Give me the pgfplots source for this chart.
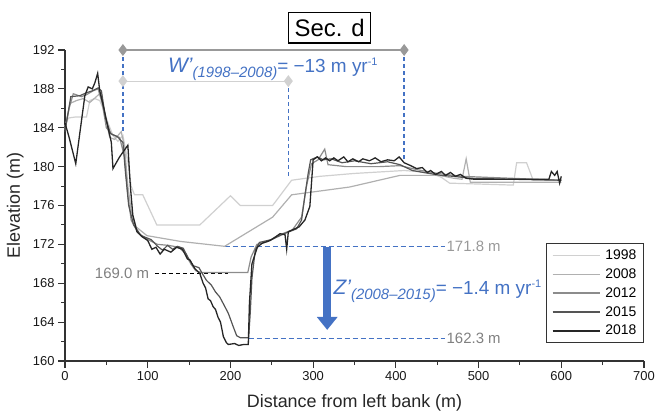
\documentclass[border=0pt]{standalone}
\usepackage{pgfplots}
\pgfplotsset{compat=1.18}
\usepackage{fontspec}
\setmainfont{Liberation Sans}
\usetikzlibrary{arrows.meta}
\definecolor{cblue}{RGB}{68,114,196}
\definecolor{cA}{HTML}{D0D0D0}
\definecolor{cB}{HTML}{B0B0B0}
\definecolor{cC}{HTML}{8C8C8C}
\definecolor{cD}{HTML}{555555}
\definecolor{cE}{HTML}{262626}
\begin{document}
\begin{tikzpicture}
\begin{axis}[name=ax, scale only axis, width=579bp, height=311bp,
  xmin=0, xmax=700, ymin=160, ymax=192,
  axis lines=left, axis line style={-, line width=1.3bp, color=black!80},
  xtick={0,100,...,700}, minor x tick num=1,
  ytick={160,164,...,192}, minor y tick num=1,
  tick align=outside, major tick length=7bp, minor tick length=4bp,
  tick style={line width=1.1bp, color=black!80},
  ticklabel style={font=\fontsize{13}{13}\selectfont, color=black!90},
  /pgf/number format/assume math mode=true,
  xlabel={Distance from left bank (m)}, ylabel={Elevation (m)},
  label style={font=\fontsize{18}{18}\selectfont, color=black!85},
  xlabel style={at={(axis description cs:0.5,-0.135)}, anchor=center},
  ylabel style={at={(axis description cs:-0.086,0.5)}, anchor=center},
  clip=false,
  legend style={at={(axis cs:700,172.1)}, anchor=north east, draw=black!80, line width=1bp,
    font=\fontsize{14}{14}\selectfont, row sep=3.6bp, column sep=3bp, inner xsep=5bp, inner ysep=4bp},
  legend cell align=right,
  legend image code/.code={\draw[#1, line width=1.5bp] (0bp,0bp) -- (47bp,0bp);},
]
% annotations (not in legend)
\addplot[forget plot, color=black!40, line width=1.2bp, mark=diamond*, mark size=5bp, mark options={fill=black!40}] coordinates {(70,192)(410,192)};
\addplot[forget plot, color=black!18, line width=1.2bp, mark=diamond*, mark size=5bp, mark options={fill=black!18}] coordinates {(70,188.8)(270,188.8)};
\addplot[forget plot, cblue, line width=1.3bp, dash pattern=on 4bp off 3bp] coordinates {(70,192)(70,183.4)};
\addplot[forget plot, cblue, line width=1.3bp, dash pattern=on 4bp off 3bp] coordinates {(270,188.8)(270,178.8)};
\addplot[forget plot, cblue, line width=1.3bp, dash pattern=on 4bp off 3bp] coordinates {(410,192)(410,180.8)};
\addplot[forget plot, cblue, line width=1.3bp, dash pattern=on 5bp off 3bp] coordinates {(193,171.8)(459.5,171.8)};
\addplot[forget plot, cblue, line width=1.3bp, dash pattern=on 5bp off 3bp] coordinates {(222,162.3)(459.5,162.3)};
\addplot[forget plot, black, line width=1.2bp, dash pattern=on 4bp off 3bp] coordinates {(109,169.0)(197,169.0)};
% data
\addplot[cA, line width=1.2bp] coordinates {(0,184.2)(4,185)(12,185.1)(26,185.1)(30,186.8)(36,187)(42,186.8)(46,186)(52,184.5)(58,183.2)(64,182.6)(70,183.2)(76,180.5)(80,178)(84,177.1)(94,177.1)(111,174)(163,174)(200,177)(212,176)(251,176)(274,178.6)(308,179)(350,179.3)(410,179.6)(440,179.4)(455,178.9)(465,178.3)(542,178.1)(546,180.4)(558,180.4)(566,178.6)(600,178.6)};
\addlegendentry{1998}
\addplot[cB, line width=1.2bp] coordinates {(0,183.8)(6,186.5)(14,186.8)(22,187)(30,186.6)(38,187.2)(43,187.6)(48,185.5)(54,183)(60,182.8)(68,183.6)(72,182)(76,178)(80,175.5)(86,173.8)(99,172.9)(140,172.3)(193,171.8)(251,174.8)(274,177.1)(344,177.9)(405,179.1)(453,179.1)(470,178.8)(480,178.7)(485,180.8)(490,178.4)(600,178.4)};
\addlegendentry{2008}
\addplot[cC, line width=1.2bp] coordinates {(0,184)(5,186)(10,187.5)(20,187.2)(26,187.4)(34,187.8)(40,188)(45,186.5)(50,184)(57,183.3)(66,183)(72,181)(76,177)(80,174.5)(88,173.2)(100,172.5)(112,172)(125,171.9)(138,171.7)(146,171)(152,170)(158,169.3)(165,169.1)(221,169.1)(225,170.7)(232,172)(245,172.3)(260,173)(275,173.5)(286,174.8)(292,178)(298,180.3)(306,180.7)(314,181.8)(318,180.2)(340,180)(380,180)(405,180.1)(425,179.7)(450,179.3)(480,179)(540,178.8)(600,178.6)};
\addlegendentry{2012}
\addplot[cD, line width=1.2bp] coordinates {(0,183.6)(7,187.2)(18,187.3)(26,187.6)(33,187.8)(40,188.1)(44,187.8)(49,185)(55,183.4)(63,183.1)(70,182.5)(73,179.5)(77,176)(83,174)(92,172.9)(104,172.5)(112,171.8)(118,171.4)(124,171.9)(130,171.5)(136,171.8)(143,171.6)(149,170.6)(155,169.8)(162,169.6)(166,169)(171,168.3)(177,167.8)(182,167.1)(187,166.6)(192,165.8)(197.5,164.9)(203.5,163.5)(207.6,162.6)(212,162.4)(222,162.4)(224,165)(226,168.5)(230,171.4)(235,172.2)(250,172.5)(265,173.1)(280,173.6)(286,174.5)(290,177)(294,179.3)(297,180.7)(305,181)(312,180.7)(322,180.8)(335,180.4)(350,180.6)(370,180.3)(390,180.5)(405,180.2)(420,179.6)(440,179.3)(455,179.1)(470,179)(490,178.8)(540,178.7)(600,178.6)};
\addlegendentry{2015}
\addplot[cE, line width=1.3bp] coordinates {(0,184.5)(5,183)(13,180.3)(18,183.5)(24,187.3)(28,188.2)(33,188)(36,188.6)(39.5,189.6)(42,187.8)(47,186)(52,184)(56,182.5)(58,179.8)(66,181)(76,182.2)(79,178)(82,175)(87,173.3)(93,172.8)(100,172.4)(105,171.5)(110,171.7)(115,171)(120,171.5)(128,171.2)(135,171.7)(142,171.5)(148,170.5)(151,170.4)(157,169.5)(163,169)(167,168)(170,167.5)(173,166.4)(176,166.2)(179,165.6)(182,165.3)(185,164.5)(188,164)(191.5,162.5)(195,161.9)(197.5,161.7)(205,161.8)(210,161.6)(216,161.7)(221.6,161.7)(223,166)(226,170)(232.5,171.7)(238,172.1)(248,172.4)(255,172.8)(260,173.1)(266,173)(268,171.5)(270,173.3)(275,173.5)(283,173.8)(290,174.5)(296,175.9)(300,180.7)(305,181)(310,180.6)(315,180.9)(320,180.6)(325,180.9)(330,180.6)(337,181)(342,180.5)(348,180.8)(355,180.5)(360,180.8)(368,180.6)(375,180.9)(382,180.5)(390,180.7)(398,180.6)(404,181)(410,180.4)(418,180.1)(425,179.8)(432,179.9)(438,179.4)(442,179.6)(448,179.2)(455,179.5)(460,179.1)(466,179.4)(472,179)(478,179.2)(485,178.8)(495,178.7)(520,178.7)(560,178.7)(585,178.7)(588,179.5)(592,179.1)(595,179.5)(598,178.3)(600,179)};
\addlegendentry{2018}
% arrow and texts
\draw[cblue, line width=8bp, -{Triangle[width=20bp,length=13bp]}] (axis cs:317,171.7) -- (axis cs:317,163.2);
\node[draw=black, line width=1.3bp, inner xsep=6bp, inner ysep=6.5bp, font=\fontsize{24}{24}\selectfont] at (axis cs:320,194.3) {Sec. d};
\node[anchor=base west, inner sep=0pt, text=cblue, font=\fontsize{19}{19}\selectfont] at (axis cs:124.5,189.7) {{\fontsize{21}{21}\selectfont\itshape W’}\raisebox{-5bp}{\fontsize{15}{15}\selectfont\itshape (1998–2008)}= −13 m yr\raisebox{7bp}{\fontsize{11}{11}\selectfont -1}};
\node[anchor=base west, inner sep=0pt, text=cblue, font=\fontsize{19}{19}\selectfont] at (axis cs:324.5,166.8) {{\fontsize{21}{21}\selectfont\itshape Z’}\raisebox{-5bp}{\fontsize{15}{15}\selectfont\itshape (2008–2015)}= −1.4 m yr\raisebox{7bp}{\fontsize{11}{11}\selectfont -1}};
\node[anchor=west, inner sep=1bp, text=black!40, font=\fontsize{15}{15}\selectfont] at (axis cs:460,171.8) {171.8 m};
\node[anchor=west, inner sep=1bp, text=black!50, font=\fontsize{15}{15}\selectfont] at (axis cs:460,162.3) {162.3 m};
\node[anchor=east, inner sep=1bp, text=black!50, font=\fontsize{15}{15}\selectfont] at (axis cs:103,169.0) {169.0 m};
\end{axis}
\pgfresetboundingbox
\path[use as bounding box] ([xshift=-65bp,yshift=-58bp]ax.south west) rectangle ([xshift=11bp,yshift=50bp]ax.north east);
\end{tikzpicture}
\end{document}
